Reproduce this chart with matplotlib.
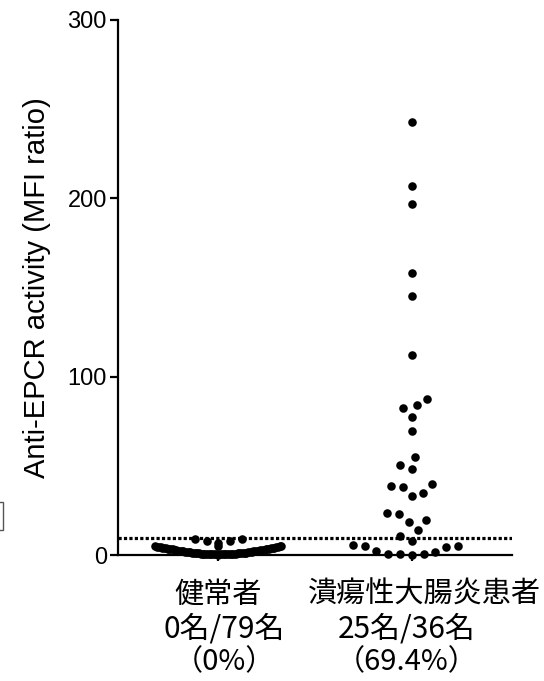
import numpy as np
import matplotlib
matplotlib.use("Agg")
import matplotlib.pyplot as plt
from matplotlib.patches import Rectangle

# ---------- data ---------------------------------------------------------
groups = ["健常者", "潰瘍性大腸炎患者"]
counts = ["0名/79名", "25名/36名"]
rates = ["（0%）", "（69.4%）"]

# healthy donors (n=79)
healthy = [
    0.2, 0.3, 0.3, 0.3, 0.4, 0.3, 0.4, 0.4, 0.5, 0.4,
    0.5, 0.5, 0.6, 0.5, 0.6, 0.7, 0.6, 0.7, 0.8, 0.8,
    0.9, 0.8, 0.9, 1.0, 1.1, 1.0, 1.1, 1.2, 1.3, 1.2,
    1.4, 1.4, 1.5, 1.6, 1.5, 1.7, 1.8, 1.8, 1.9, 2.0,
    2.1, 2.1, 2.2, 2.3, 2.4, 2.5, 2.5, 2.6, 2.7, 2.8,
    2.9, 3.0, 3.1, 3.2, 3.3, 3.3, 3.4, 3.5, 3.6, 3.7,
    3.8, 3.9, 4.0, 4.1, 4.2, 4.3, 4.4, 4.5, 4.6, 4.7,
    4.8, 4.9, 5.1, 5.3,
    6.5, 7.6, 7.8, 8.9, 9.1,
]

# ulcerative colitis patients (n=36)
uc = [
    243, 207, 197, 158, 145, 112,
    87.5, 84, 82.5, 77.4, 69.5,
    55, 50.5, 48,
    39.8, 38.7, 38, 34.8, 33,
    23.6, 23, 19.6, 18.5, 14, 10.7,
    7.9, 5.6, 5.0, 4.8, 4.5, 2.2, 1.7, 0.5, 0.4, 0.3, 0.2,
]

cutoff = 9.6

plt.rcParams["font.family"] = ["Liberation Sans", "DejaVu Sans"]
JP = ["Noto Sans CJK JP", "DejaVu Sans"]


# ---------- helpers ------------------------------------------------------
def swarm(ax, vals, center, rx, ry):
    """Beeswarm x positions; rx/ry are the collision radii in pixels."""
    vals = np.asarray(vals, dtype=float)
    pts = ax.transData.transform(np.column_stack([np.full(len(vals), center), vals]))
    x0 = pts[0, 0]
    placed = []
    dx_out = np.zeros(len(vals))
    for i in np.argsort(vals, kind="stable"):
        y = pts[i, 1]
        near = [(dx, py) for dx, py in placed if abs(py - y) < ry]
        cands = [0.0]
        for dx, py in near:
            w = rx * np.sqrt(1 - ((py - y) / ry) ** 2)
            cands += [dx - w, dx + w]
        side = 1 if len(placed) % 2 else -1
        cands.sort(key=lambda c: (round(abs(c), 3), side * c))
        for c in cands:
            if all(((c - dx) / rx) ** 2 + ((py - y) / ry) ** 2 >= 0.999 for dx, py in near):
                break
        placed.append((c, y))
        dx_out[i] = c
    back = ax.transData.inverted().transform(np.column_stack([x0 + dx_out, pts[:, 1]]))
    return back[:, 0]


# ---------- figure -------------------------------------------------------
W, H = 544, 681
fig = plt.figure(figsize=(W / 100, H / 100), dpi=100)
ax = fig.add_axes([118 / W, 1 - 555 / H, (512 - 118) / W, 535 / H])
ax.set_xlim(-0.52, 1.52)
ax.set_ylim(0, 300)

hv = np.array(healthy)
dense = hv < 6
hx = np.empty(len(hv))
hx[dense] = swarm(ax, hv[dense], 0, 1.75, 10)
hx[~dense] = swarm(ax, hv[~dense], 0, 12, 9)
ux = swarm(ax, uc, 1, 12, 13)

ax.scatter(hx, hv, s=38, color="black", linewidths=0, clip_on=False, zorder=3)
ax.scatter(ux, uc, s=38, color="black", linewidths=0, clip_on=False, zorder=3)

ax.axhline(cutoff, color="black", lw=2.3, ls=(0, (1, 0.7)),
           dash_capstyle="butt", zorder=2)

for s in ("top", "right"):
    ax.spines[s].set_visible(False)
for s in ("left", "bottom"):
    ax.spines[s].set_linewidth(1.6)

ax.set_yticks([0, 100, 200, 300])
ax.tick_params(axis="y", length=6, width=1.6, pad=2, labelsize=17)
ax.set_xticks([0, 1])
ax.set_xticklabels([])
ax.tick_params(axis="x", length=4, width=1.6)
ax.set_ylabel("Anti-EPCR activity (MFI ratio)", fontsize=21, labelpad=12)

# category labels and positive rates under the axis
tr = ax.get_xaxis_transform()
for i, x in enumerate([0.0, 1.067]):
    ax.text(x, -40 / 535, groups[i], transform=tr, ha="center", va="center",
            fontsize=21, family=JP)
for i, x in enumerate([0.03, 0.975]):
    ax.text(x, -74 / 535, counts[i], transform=tr, ha="center", va="center",
            fontsize=21.5, family=JP)
    ax.text(x, -107 / 535, rates[i], transform=tr, ha="center", va="center",
            fontsize=21, family=JP)

# edge of a neighbouring panel box, cut by the crop
fig.patches.append(Rectangle((-20 / W, 1 - 530 / H), 23 / W, 28 / H,
                             transform=fig.transFigure, fill=False,
                             edgecolor="#555555", lw=1))

fig.savefig("out.png", dpi=100)
